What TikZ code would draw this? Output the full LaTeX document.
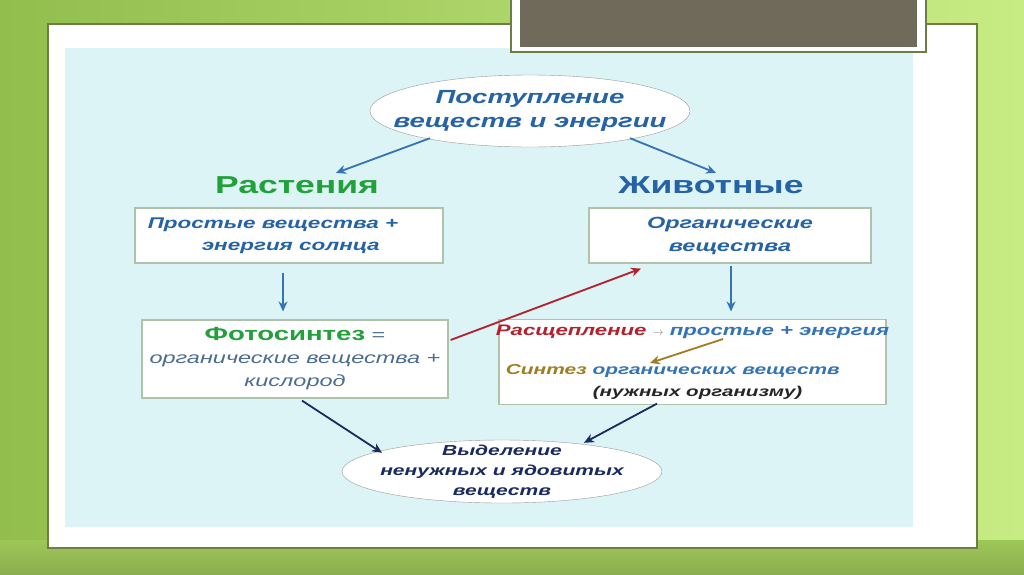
\documentclass[tikz,border=0pt]{standalone}
\usepackage{fontspec}
\setmainfont[FakeStretch=1.45]{Liberation Sans}
\usepackage{tikz}
\usetikzlibrary{calc, positioning, arrows.meta, shapes.geometric}
\definecolor{xleaf}{HTML}{92BE4E}
\definecolor{xlime}{HTML}{C8EC84}
\definecolor{xmoss}{HTML}{8CAE4E}
\definecolor{xolive}{HTML}{6E7C45}
\definecolor{xpanel}{HTML}{DCF4F5}
\definecolor{xslate}{HTML}{6F6A5A}
\definecolor{xframe}{HTML}{AFC3AA}
\definecolor{xblue}{HTML}{2563A6}
\definecolor{xlightblue}{HTML}{3473B5}
\definecolor{xgrayblue}{HTML}{4C6C90}
\definecolor{xgreen}{HTML}{22A03A}
\definecolor{xnavy}{HTML}{1B2A5E}
\definecolor{xred}{HTML}{B3202E}
\definecolor{xbrown}{HTML}{A27C22}
\tikzset{
  oval/.style = {ellipse, draw=gray!80, fill=white, inner xsep=-40pt, inner ysep=-8pt, align=center},
  infobox/.style = {rectangle, draw=xframe, fill=white, line width=1.2pt, inner sep=0pt, align=center},
  heading/.style = {font=\bfseries\fontsize{24.5}{30}\selectfont, text=#1},
  flow/.style = {#1, line width=1.8pt, -{Stealth[length=10pt, width=9pt]}},
}

\begin{document}
\begin{tikzpicture}[x=1pt, y=-1pt]
      \useasboundingbox (0,0) rectangle (1024,574);
      \shade[left color=xleaf, right color=xlime] (0,0) rectangle (1024,574);
      \shade[top color=xleaf!80!xlime, bottom color=xmoss] (0,540) rectangle (1024,574);

      % slide card
      \draw[xolive, line width=1.2pt, fill=white] (48,24) rectangle (977,548);
      \fill[xpanel] (65,48) rectangle (913,527);
      \draw[xolive, line width=1.2pt, fill=white] (511,-2) rectangle (926,52);
      \fill[xslate] (520,-2) rectangle (917,47);

      \node[oval, minimum width=320, minimum height=72, text=xblue, font=\bfseries\itshape\fontsize{19}{24.5}\selectfont] (intake) at (530,111) {Поступление\\веществ и энергии};

      \node[heading=xgreen] (plants) at (297,185) {Растения};
      \node[heading=xblue] (animals) at (711,185) {Животные};

      \node[infobox, align=left, minimum width=308, minimum height=55, text=xblue, font=\bfseries\itshape\fontsize{15.5}{22}\selectfont] (simple) at (289,235.5) {Простые вещества +\hspace*{32pt}\\\hspace*{54pt}энергия солнца};
      \node[infobox, minimum width=306, minimum height=78, text=xgrayblue, font=\itshape\fontsize{16.2}{23}\selectfont] (photo) at (295,359) {{\upshape\bfseries\fontsize{19}{23}\selectfont\color{xgreen}Фотосинтез} {\upshape =}\\органические вещества +\\кислород};
      \node[infobox, minimum width=282, minimum height=55, text=xblue, font=\bfseries\itshape\fontsize{16.2}{23}\selectfont] (organic) at (730,235.5) {Органические\\вещества};
      \node[infobox, inner xsep=-6pt, minimum width=387, minimum height=85, align=left, text=xlightblue, font=\bfseries\itshape\fontsize{15.3}{20}\selectfont] (animalbox) at (692.5,362) {{\color{xred}Расщепление} {\mdseries\color{gray}\fontsize{11}{20}\selectfont$\rightarrow$} простые + энергия\\[19pt]\fontsize{14.4}{22}\selectfont\hspace*{10pt}{\color{xbrown}Синтез} органических веществ\\[2pt]\fontsize{14.2}{22}\selectfont\hspace*{97pt}{\color{black!85}(нужных организму)}};

      \node[oval, minimum width=320, minimum height=63, text=xnavy, font=\bfseries\itshape\fontsize{14.5}{20}\selectfont] (release) at (502,471.5) {Выделение\\ненужных и ядовитых\\веществ};

      \draw[flow=xlightblue] ($(intake.south)+(-100,-9)$) -- ($(plants.north)+(39,0)$);
      \draw[flow=xlightblue] ($(intake.south)+(100,-9)$) -- ($(animals.north)+(5,0)$);
      \draw[flow=xlightblue] ($(simple.south)+(-6,9)$) -- ($(photo.north)+(-12,-8)$);
      \draw[flow=xlightblue] ($(organic.south)+(1,2)$) -- ($(animalbox.north)+(38.5,-7.5)$);
      \draw[flow=xred] ($(photo.east)+(2,-19)$) -- ($(organic.south)+(-89,5)$);
      \draw[flow=xbrown] ($(animalbox.center)+(30.5,-23)$) -- ($(animalbox.center)+(-42.5,1)$);
      \draw[flow=xnavy] ($(photo.south)+(7,2)$) -- ($(release.north)+(-120,13)$);
      \draw[flow=xnavy] ($(animalbox.south)+(-35.5,-1.5)$) -- ($(release.north)+(82,3)$);
    \end{tikzpicture}
\end{document}
